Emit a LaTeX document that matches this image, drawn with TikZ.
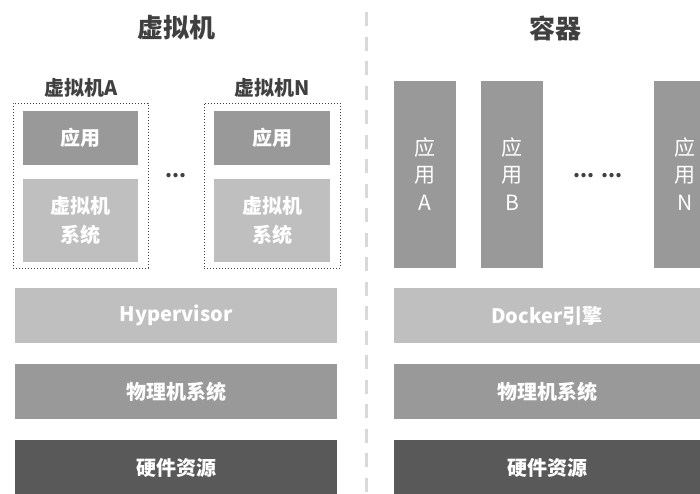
\documentclass[tikz,border=0pt]{standalone}
\usepackage{fontspec}
\setmainfont{Noto Sans CJK SC}
\definecolor{appgray}{HTML}{999999}
\definecolor{lightgray}{HTML}{BFBFBF}
\definecolor{darkgray}{HTML}{595959}
\definecolor{titlegray}{HTML}{404040}
\definecolor{divgray}{HTML}{D9D9D9}
\tikzset{
  box/.style={rectangle, inner sep=0pt, draw=none, text=white, align=center, font=\fontsize{20}{24}\selectfont\bfseries},
  vmframe/.style={rectangle, inner sep=0pt, draw=titlegray, dotted, line width=1pt},
  title/.style={text=titlegray, font=\fontsize{26}{30}\selectfont\bfseries},
  sublabel/.style={text=titlegray, font=\fontsize{20}{24}\selectfont\bfseries},
  bar/.style={rectangle, inner sep=0pt, fill=appgray, text=white, align=center, minimum width=62pt, minimum height=187pt, font=\fontsize{21}{27.5}\selectfont},
  divider/.style={draw=divgray, line width=3pt, dash pattern=on 14pt off 10.5pt}
}
\begin{document}
\begin{tikzpicture}[x=1pt,y=-1pt]
\useasboundingbox (0,0) rectangle (700,493);
\clip (0,0) rectangle (700,493);
% titles
\node[title] (tvm) at (176,28) {虚拟机};
\node[title] (tct) at (555,28) {容器};
% divider
\coordinate (dtop) at (366,12);
\coordinate (dbot) at (366,500);
\draw[divider] (dtop) -- (dbot);
% VM A
\node[sublabel] (lA) at (81,88) {虚拟机A};
\node[vmframe, minimum width=135pt, minimum height=165pt] (vmA) at (80.5,185.5) {};
\node[box, fill=appgray, minimum width=115pt, minimum height=54pt] (appA) at (80.5,138) {应用};
\node[box, fill=lightgray, minimum width=115pt, minimum height=83pt, font=\fontsize{20}{29}\selectfont\bfseries] (sysA) at (80.5,220.5) {虚拟机\\系统};
% VM N
\node[sublabel] (lN) at (272,88) {虚拟机N};
\node[vmframe, minimum width=136pt, minimum height=165pt] (vmN) at (272,185.5) {};
\node[box, fill=appgray, minimum width=116pt, minimum height=54pt] (appN) at (272,138) {应用};
\node[box, fill=lightgray, minimum width=116pt, minimum height=83pt, font=\fontsize{20}{29}\selectfont\bfseries] (sysN) at (272,220.5) {虚拟机\\系统};
\node[sublabel] (dotsL) at (176,176) {...};
% left stack
\node[box, fill=lightgray, minimum width=322pt, minimum height=55pt] (hyp) at (176,315.5) {Hypervisor};
\node[box, fill=appgray, minimum width=322pt, minimum height=55pt] (phyL) at (176,391.5) {物理机系统};
\node[box, fill=darkgray, minimum width=322pt, minimum height=55pt] (hwL) at (176,467.5) {硬件资源};
% right apps
\node[bar] (barA) at (425,174) {应\\用\\A};
\node[bar] (barB) at (512,174) {应\\用\\B};
\node[bar] (barN) at (685,174) {应\\用\\N};
\node[sublabel] (dotsR) at (598,176) {... ...};
% right stack
\node[box, fill=lightgray, minimum width=306pt, minimum height=55pt] (dock) at (547,315.5) {Docker引擎};
\node[box, fill=appgray, minimum width=306pt, minimum height=55pt] (phyR) at (547,391.5) {物理机系统};
\node[box, fill=darkgray, minimum width=306pt, minimum height=55pt] (hwR) at (547,467.5) {硬件资源};
\end{tikzpicture}
\end{document}
